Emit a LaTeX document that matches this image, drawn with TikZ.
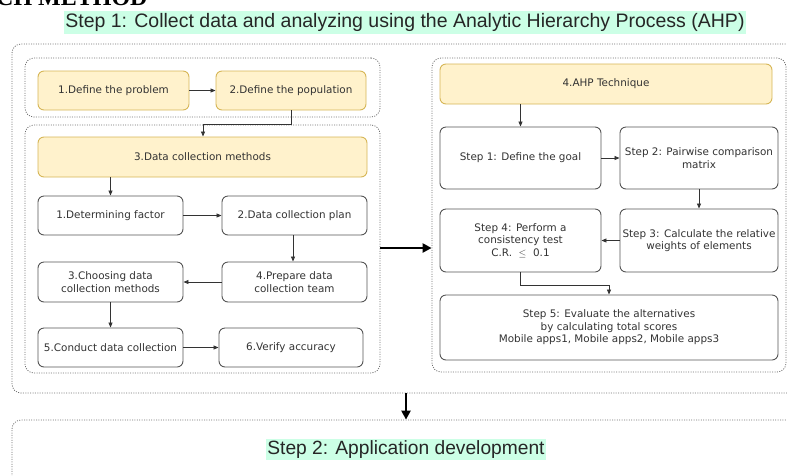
\documentclass[tikz,border=0pt]{standalone}
\usepackage{fontspec}
\usetikzlibrary{arrows.meta,calc}
\newfontfamily\nodefont{DejaVu Sans}
\newfontfamily\titlefont{Liberation Sans}
\newfontfamily\headfont{Liberation Serif}
\definecolor{ybfill}{HTML}{FFF2CC}
\definecolor{ybdraw}{HTML}{D6B656}
\definecolor{mint}{HTML}{CCFFE6}
\definecolor{txt}{HTML}{333333}
\definecolor{bord}{HTML}{555555}
\definecolor{dotc}{HTML}{6E6E6E}
\begin{document}
\begin{tikzpicture}[x=1pt,y=-1pt,
  base/.style={rounded corners=6pt, line width=0.9pt, text=txt, align=center,
     font=\nodefont\fontsize{10.4}{12.5}\selectfont, inner sep=1pt},
  ybox/.style={base, draw=ybdraw, fill=ybfill},
  wbox/.style={base, draw=bord, fill=white},
  group/.style={draw=dotc, line width=0.8pt, dash pattern=on 1pt off 1.4pt, rounded corners=9pt, inner sep=0pt},
  arr/.style={draw=txt, line width=0.8pt, -{Triangle[length=5pt,width=4pt]}},
  bigarr/.style={draw=black, line width=2.6pt, -{Triangle[length=9pt,width=9pt]}},
  ttl/.style={fill=mint, text=black!85, inner xsep=1pt, inner ysep=2pt}
]
\useasboundingbox (0,0) rectangle (787,475);

% heading fragment
\node[anchor=base west, inner sep=0pt, font=\headfont\bfseries\fontsize{24}{24}\selectfont] (head) at (-4,5) {CH METHOD};

% groups
\node[group, minimum width=785pt, minimum height=349pt] (g1) at (404.5,218.5) {};
\node[group, minimum width=790pt, minimum height=80pt] (g2) at (407,460) {};
\node[group, minimum width=355pt, minimum height=59pt] (gA) at (202.5,87.5) {};
\node[group, minimum width=355pt, minimum height=248pt] (gB) at (202.5,249) {};
\node[group, minimum width=354pt, minimum height=314pt] (gC) at (609,215) {};

% titles
\node[ttl, font=\titlefont\fontsize{19.5}{22}\selectfont] (t1) at (405,22.5) {Step 1: Collect data and analyzing using the Analytic Hierarchy Process (AHP)};
\node[ttl, font=\titlefont\fontsize{19.2}{22}\selectfont] (t2) at (406,449.5) {Step 2: Application development};

% left side
\node[ybox, minimum width=151pt, minimum height=39pt] (dp) at (113.5,90.5) {1.Define the problem};
\node[ybox, minimum width=150pt, minimum height=39pt] (pop) at (291,90.5) {2.Define the population};
\node[ybox, minimum width=329pt, minimum height=40pt] (dcm) at (202.5,157) {3.Data collection methods};
\node[wbox, minimum width=145pt, minimum height=39pt] (det) at (110.5,215.5) {1.Determining factor};
\node[wbox, minimum width=145pt, minimum height=39pt] (plan) at (294.5,215.5) {2.Data collection plan};
\node[wbox, minimum width=145pt, minimum height=40pt] (prep) at (294.5,282) {4.Prepare data\\collection team};
\node[wbox, minimum width=145pt, minimum height=40pt] (choose) at (110.5,282) {3.Choosing data\\collection methods};
\node[wbox, minimum width=145pt, minimum height=39pt] (cond) at (110.5,347.5) {5.Conduct data collection};
\node[wbox, minimum width=144pt, minimum height=39pt] (ver) at (291,347.5) {6.Verify accuracy};

% right side
\node[ybox, minimum width=332pt, minimum height=40pt] (ahp) at (606,84) {4.AHP Technique};
\node[wbox, minimum width=161pt, minimum height=62pt] (s1) at (520.5,158) {Step 1: Define the goal};
\node[wbox, minimum width=158pt, minimum height=62pt] (s2) at (699,158) {Step 2: Pairwise comparison\\matrix};
\node[wbox, minimum width=158pt, minimum height=63pt] (s3) at (699,240.5) {Step 3: Calculate the relative\\weights of elements};
\node[wbox, minimum width=161pt, minimum height=63pt] (s4) at (520.5,240.5) {Step 4: Perform a\\consistency test\\C.R.~~\(\leq\)~~0.1};
\node[wbox, minimum width=338pt, minimum height=65pt] (s5) at (609,327.5) {Step 5: Evaluate the alternatives\\by calculating total scores\\Mobile apps1, Mobile apps2, Mobile apps3};

% connectors left
\draw[arr] (dp) -- (pop);
\coordinate (c1) at (203,124);
\draw[arr] (pop.south) |- (c1) -- (c1 |- dcm.north);
\draw[arr] (dcm.south -| det.north) -- (det.north);
\draw[arr] (det) -- (plan);
\draw[arr] (plan.south -| 293,0) -- (prep.north -| 293,0);
\draw[arr] (prep) -- (choose);
\draw[arr] (choose) -- (cond);
\draw[arr] (cond) -- (ver);

% connectors right
\draw[arr] (ahp.south -| s1.north) -- (s1.north);
\draw[arr] (s1) -- (s2);
\draw[arr] (s2) -- (s3);
\draw[arr] (s3) -- (s4);
\coordinate (c2) at (609,285);
\draw[arr] (s4.south) |- (c2) -- (s5.north);

% big arrows
\draw[bigarr] (gB.east |- 0,248) -- (gC.west |- 0,248);
\draw[bigarr] (g1.south -| 406,0) -- (g2.north -| 406,0);
\end{tikzpicture}
\end{document}
